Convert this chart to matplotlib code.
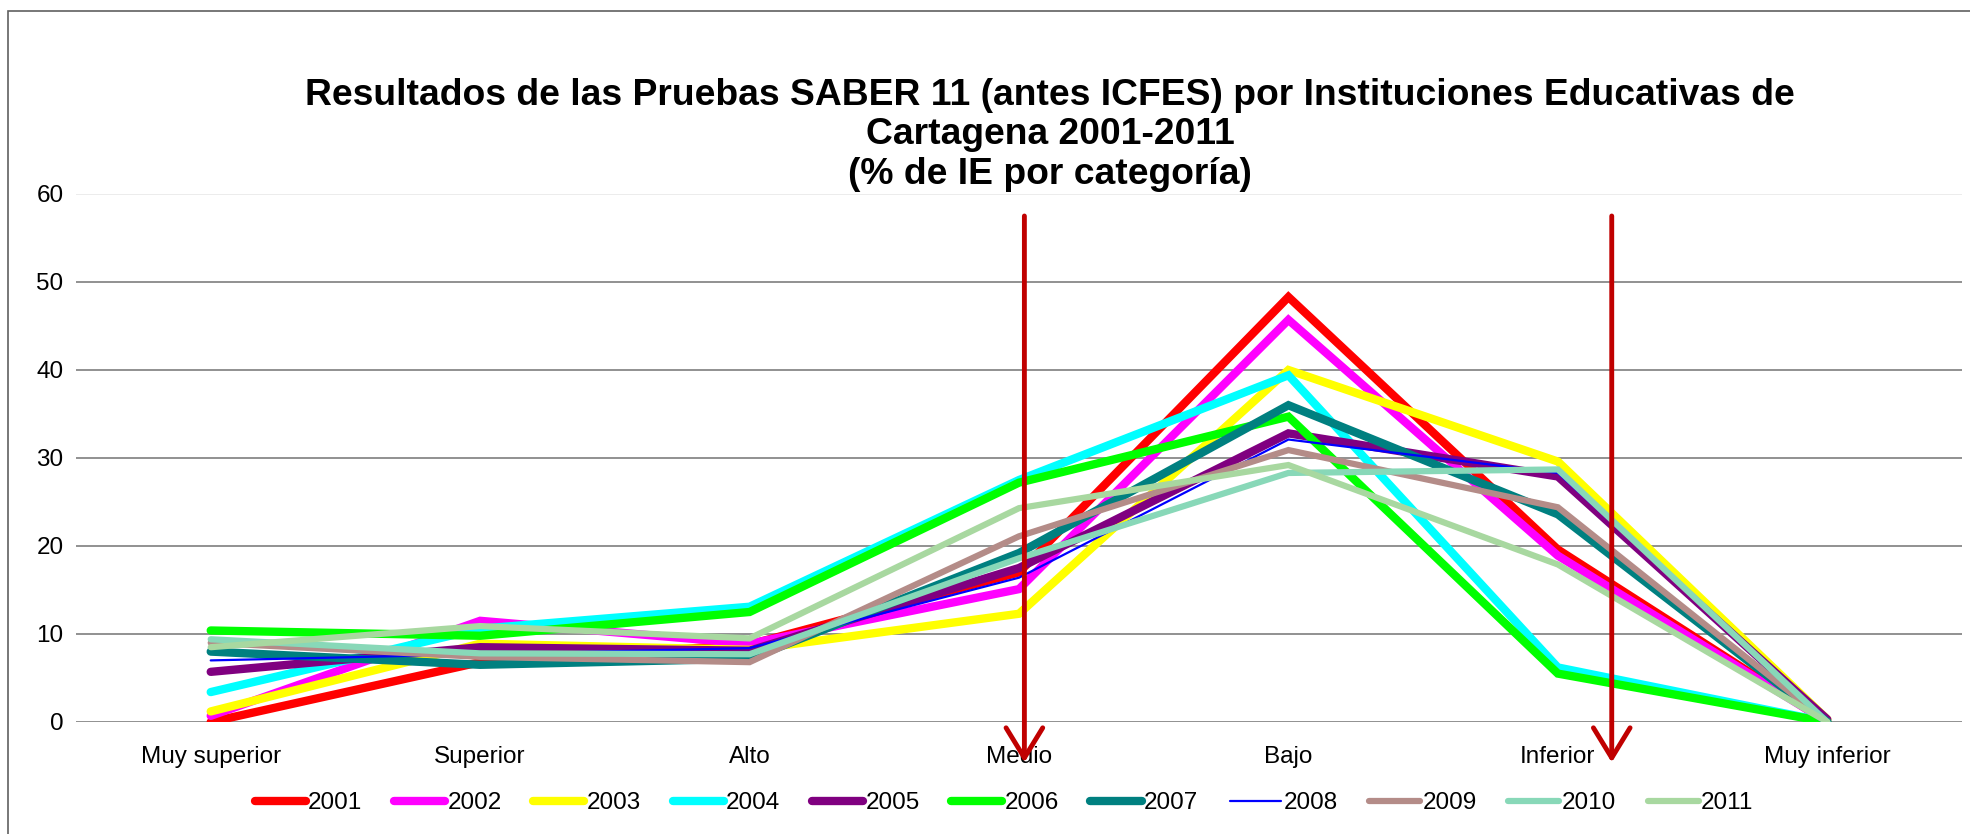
import matplotlib.pyplot as plt
from matplotlib.patches import Rectangle

plt.rcParams['font.family'] = ['Liberation Sans', 'DejaVu Sans']

categorias = ['Muy superior', 'Superior', 'Alto', 'Medio', 'Bajo', 'Inferior', 'Muy inferior']

v2001 = [0.0, 6.8, 8.8, 17.0, 48.3, 19.6, 0.0]
v2002 = [0.7, 11.5, 8.9, 15.1, 45.7, 18.9, 0.0]
v2003 = [1.2, 8.9, 8.2, 12.3, 40.0, 29.6, 0.3]
v2004 = [3.4, 10.6, 13.1, 27.5, 39.4, 6.2, 0.0]
v2005 = [5.7, 8.5, 8.1, 17.5, 32.8, 27.9, 0.3]
v2006 = [10.4, 9.8, 12.5, 27.2, 34.7, 5.5, 0.0]
v2007 = [8.0, 6.5, 7.2, 19.2, 36.0, 23.6, 0.0]
v2008 = [7.0, 7.7, 8.4, 16.4, 32.1, 28.3, 0.3]
v2009 = [9.0, 7.4, 6.8, 21.1, 30.9, 24.4, 0.0]
v2010 = [9.4, 7.8, 7.7, 18.6, 28.3, 28.7, 0.0]
v2011 = [8.5, 10.9, 9.5, 24.3, 29.2, 17.9, 0.0]

series = [
    ('2001', v2001, '#FF0000', 6.0),
    ('2002', v2002, '#FF00FF', 6.0),
    ('2003', v2003, '#FFFF00', 6.0),
    ('2004', v2004, '#00FFFF', 6.0),
    ('2005', v2005, '#800080', 6.0),
    ('2006', v2006, '#00FF00', 6.0),
    ('2007', v2007, '#008080', 6.0),
    ('2008', v2008, '#0000FF', 1.6),
    ('2009', v2009, '#B48C88', 4.5),
    ('2010', v2010, '#88D8B8', 4.5),
    ('2011', v2011, '#A8D8A0', 4.5),
]

W, H = 1970, 834
fig = plt.figure(figsize=(W / 100, H / 100), dpi=100)
ax = fig.add_axes([76 / W, 1 - 722 / H, (1962 - 76) / W, (722 - 194) / H])

x = list(range(len(categorias)))
for nombre, vals, color, lw in series:
    ax.plot(x, vals, color=color, lw=lw, label=nombre,
            solid_capstyle='round', solid_joinstyle='miter', zorder=3)

ax.set_xlim(-0.5, len(categorias) - 0.5)
ax.set_ylim(0, 60)
ax.set_yticks(range(0, 61, 10))
ax.set_xticks(x)
ax.set_xticklabels(categorias)
ax.tick_params(axis='x', length=0, pad=17, labelsize=17.5)
ax.tick_params(axis='y', length=0, pad=9, labelsize=17.5)
for s in ax.spines.values():
    s.set_visible(False)
for yv in range(0, 60, 10):
    ax.axhline(yv, color='#888888', lw=1.3, zorder=1)
ax.axhline(60, color='#EBEBEB', lw=1.3, zorder=1)

# flechas rojas
for xa in [3.02, 5.2]:
    ax.annotate('', xy=(xa, -4.6), xytext=(xa, 57.5),
                arrowprops=dict(arrowstyle='->,head_length=0.9,head_width=0.55',
                                color='#C00000', lw=3.5, mutation_scale=24,
                                shrinkA=0, shrinkB=0),
                annotation_clip=False, zorder=5)

fig.text(0.533, 1 - 135 / H,
         'Resultados de las Pruebas SABER 11 (antes ICFES) por Instituciones Educativas de\n'
         'Cartagena 2001-2011\n(% de IE por categoría)',
         ha='center', va='center', fontsize=26.8, fontweight='bold', linespacing=1.17)

fig.legend(loc='center', bbox_to_anchor=(1004 / W, 1 - 803 / H), ncol=11,
           frameon=False, fontsize=17.5, handlelength=2.1, handletextpad=0.1,
           columnspacing=1.3)

fig.patches.append(Rectangle((8 / W, -0.2), 1.5, 1.2 - 11 / H, transform=fig.transFigure,
                             fill=False, edgecolor='#606060', lw=1.2))

fig.savefig('out.png', dpi=100)
